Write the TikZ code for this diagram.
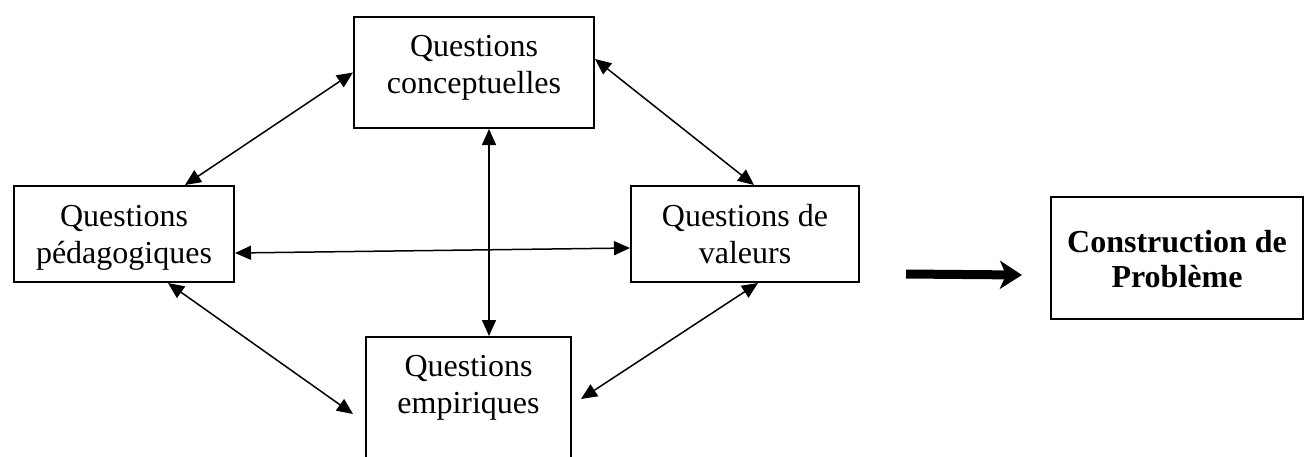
\documentclass[tikz,border=0pt]{standalone}
\usepackage{fontspec}
\setmainfont{Liberation Serif}
\usetikzlibrary{arrows.meta}

\newcommand{\twolines}[2]{\begin{tabular}[t]{@{}c@{}}#1\\#2\end{tabular}}

\begin{document}
\begin{tikzpicture}[x=0.5pt,y=-0.5pt,
  qbox/.style={draw,line width=1pt,inner xsep=0pt,inner ysep=0pt,anchor=north west,
    font=\fontsize{16}{18.5}\selectfont},
  link/.style={{Triangle[length=8pt,width=7pt]}-{Triangle[length=8pt,width=7pt]},line width=0.75pt}]
\useasboundingbox (0,0) rectangle (1304,456);
% the four kinds of questions
\node[qbox,minimum width=120pt,text height=19.5pt,text depth=36pt] (concept) at (353,16) {\twolines{Questions}{conceptuelles}};
\node[qbox,minimum width=110pt,text height=20pt,text depth=28pt] (peda) at (13,185) {\twolines{Questions}{pédagogiques}};
\node[qbox,minimum width=114pt,text height=20pt,text depth=28pt] (valeurs) at (630,185) {\twolines{Questions de}{valeurs}};
\node[qbox,minimum width=102.5pt,text height=19.5pt,text depth=52.5pt] (empir) at (365,336) {\twolines{Questions}{empiriques}};
% result
\node[qbox,minimum width=126pt,text height=27.5pt,text depth=33.5pt,font=\fontsize{16}{17.5}\selectfont\bfseries] (constr) at (1050,196) {\twolines{Construction de}{Problème}};
\coordinate (src) at (906,274);
% links
\draw[link] (concept.west) -- ([xshift=-25pt]peda.north east);
\draw[link] ([yshift=6.75pt]concept.east) -- ([xshift=4.5pt]valeurs.north);
\draw[link] ([xshift=7.5pt]concept.south) -- ([xshift=7.5pt]concept.south |- empir.north);
\draw[link] ([yshift=-9.5pt]peda.east) -- ([yshift=-7pt]valeurs.west);
\draw[link] ([xshift=22pt]peda.south) -- ([shift={(-6pt,-2.5pt)}]empir.west);
\draw[link] ([xshift=6.5pt]valeurs.south) -- ([shift={(4.5pt,5pt)}]empir.east);
\draw[line width=4.5pt,-{Stealth[length=11pt,width=14pt,inset=3pt]}] (src) -- ([shift={(-14pt,-8.5pt)}]constr.west);
\end{tikzpicture}
\end{document}
